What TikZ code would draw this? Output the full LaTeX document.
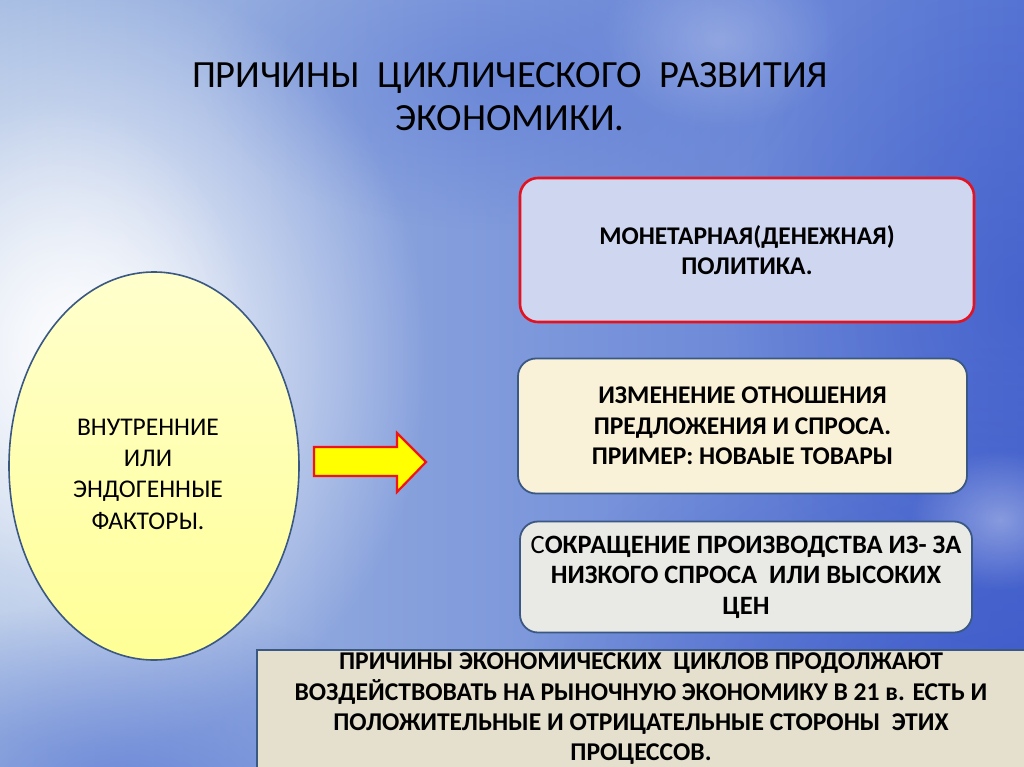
\documentclass[tikz,border=0pt]{standalone}
\usepackage{fontspec}
\setmainfont{Carlito}
\usetikzlibrary{shapes.geometric,fadings}
\definecolor{bgbase}{RGB}{88,118,212}
\definecolor{bgleft}{RGB}{165,188,226}
\definecolor{bgdark}{RGB}{50,78,198}
\definecolor{edgeblue}{RGB}{58,88,130}
\definecolor{boxred}{RGB}{226,18,32}
\definecolor{ellfillA}{RGB}{255,255,205}
\definecolor{ellfillB}{RGB}{255,255,150}
\definecolor{monfill}{RGB}{206,214,240}
\definecolor{supfill}{RGB}{249,241,216}
\definecolor{cutfill}{RGB}{233,233,229}
\definecolor{notefill}{RGB}{229,223,206}
\definecolor{arrowyellow}{RGB}{255,255,0}
\definecolor{arrowred}{RGB}{240,20,20}
\tikzfading[name=glow, inner color=transparent!0, outer color=transparent!100]
\tikzset{
  causebox/.style={draw=edgeblue, line width=1.8pt, rounded corners=18pt, align=center,
     inner sep=0pt, font=\bfseries\fontsize{25.5}{30.5}\selectfont},
  plaintext/.style={align=center, inner sep=0pt},
}
\begin{document}
\begin{tikzpicture}[x=1pt,y=-1pt]
\useasboundingbox (0,0) rectangle (1024,767);
\begin{scope}
\clip (0,0) rectangle (1024,767);
% background
\shade[left color=bgleft, right color=bgbase] (0,0) rectangle (1024,767);
\fill[bgdark, path fading=glow, opacity=0.8] (1024,767) ellipse [x radius=520, y radius=420];
\fill[bgdark, path fading=glow, opacity=0.45] (1024,300) ellipse [x radius=300, y radius=350];
\fill[bgbase, path fading=glow, opacity=0.5] (500,80) ellipse [x radius=300, y radius=150];
\fill[white, path fading=glow] (90,360) ellipse [x radius=340, y radius=390];
\fill[white, path fading=glow, opacity=0.6] (60,340) ellipse [x radius=190, y radius=240];
\fill[bgbase, path fading=glow, opacity=0.7] (120,800) ellipse [x radius=330, y radius=200];
\fill[white, path fading=glow, opacity=0.35] (1000,520) ellipse [x radius=90, y radius=70];
\fill[white, path fading=glow, opacity=0.25] (720,40) ellipse [x radius=120, y radius=90];
\end{scope}

% title
\node[plaintext, font=\fontsize{38.5}{43}\selectfont] (title) at (510,97)
  {ПРИЧИНЫ\ \ ЦИКЛИЧЕСКОГО\ \ РАЗВИТИЯ\\ЭКОНОМИКИ.};

% ellipse
\node[ellipse, draw=edgeblue, line width=1.6pt, top color=ellfillA, bottom color=ellfillB,
      minimum width=290pt, minimum height=388pt, inner sep=0pt] (endo) at (154,466) {};
\node[plaintext, font=\fontsize{25.5}{31.3}\selectfont] (endotext) at (148,474)
  {ВНУТРЕННИЕ\\ИЛИ\\ЭНДОГЕННЫЕ\\ФАКТОРЫ.};

% block arrow
\draw[arrowred, line width=2.2pt, fill=arrowyellow, line join=miter]
  (314,447) -- (397,447) -- (397,433) -- (426,462) -- (397,492) -- (397,476) -- (314,476) -- cycle;

% right boxes
\node[causebox, draw=boxred, line width=2.6pt, fill=monfill, minimum width=454pt, minimum height=144pt]
  (monetary) at (747,250) {МОНЕТАРНАЯ(ДЕНЕЖНАЯ)\\ПОЛИТИКА.};
\node[causebox, fill=supfill, minimum width=449pt, minimum height=135pt]
  (supply) at (742.5,426) {ИЗМЕНЕНИЕ ОТНОШЕНИЯ\\ПРЕДЛОЖЕНИЯ И СПРОСА.\\ПРИМЕР: НОВАЫЕ ТОВАРЫ};
\node[causebox, fill=cutfill, minimum width=452pt, minimum height=111pt,
      font=\bfseries\fontsize{26.5}{30.5}\selectfont]
  (cut) at (746,577) {{\mdseries С}ОКРАЩЕНИЕ ПРОИЗВОДСТВА ИЗ- ЗА\\НИЗКОГО СПРОСА\ \ ИЛИ ВЫСОКИХ\\ЦЕН};

% bottom note
\node[draw=edgeblue, line width=1.8pt, fill=notefill, minimum width=780pt, minimum height=124pt,
      inner sep=0pt, anchor=north west] (note) at (256,649) {};
\node[plaintext, font=\bfseries\fontsize{25.6}{30.3}\selectfont] (notetext) at (641,709)
  {ПРИЧИНЫ ЭКОНОМИЧЕСКИХ\ \ ЦИКЛОВ ПРОДОЛЖАЮТ\\ВОЗДЕЙСТВОВАТЬ НА РЫНОЧНУЮ ЭКОНОМИКУ В 21 в. ЕСТЬ И\\ПОЛОЖИТЕЛЬНЫЕ И ОТРИЦАТЕЛЬНЫЕ СТОРОНЫ\ \ ЭТИХ\\ПРОЦЕССОВ.};
\end{tikzpicture}
\end{document}
